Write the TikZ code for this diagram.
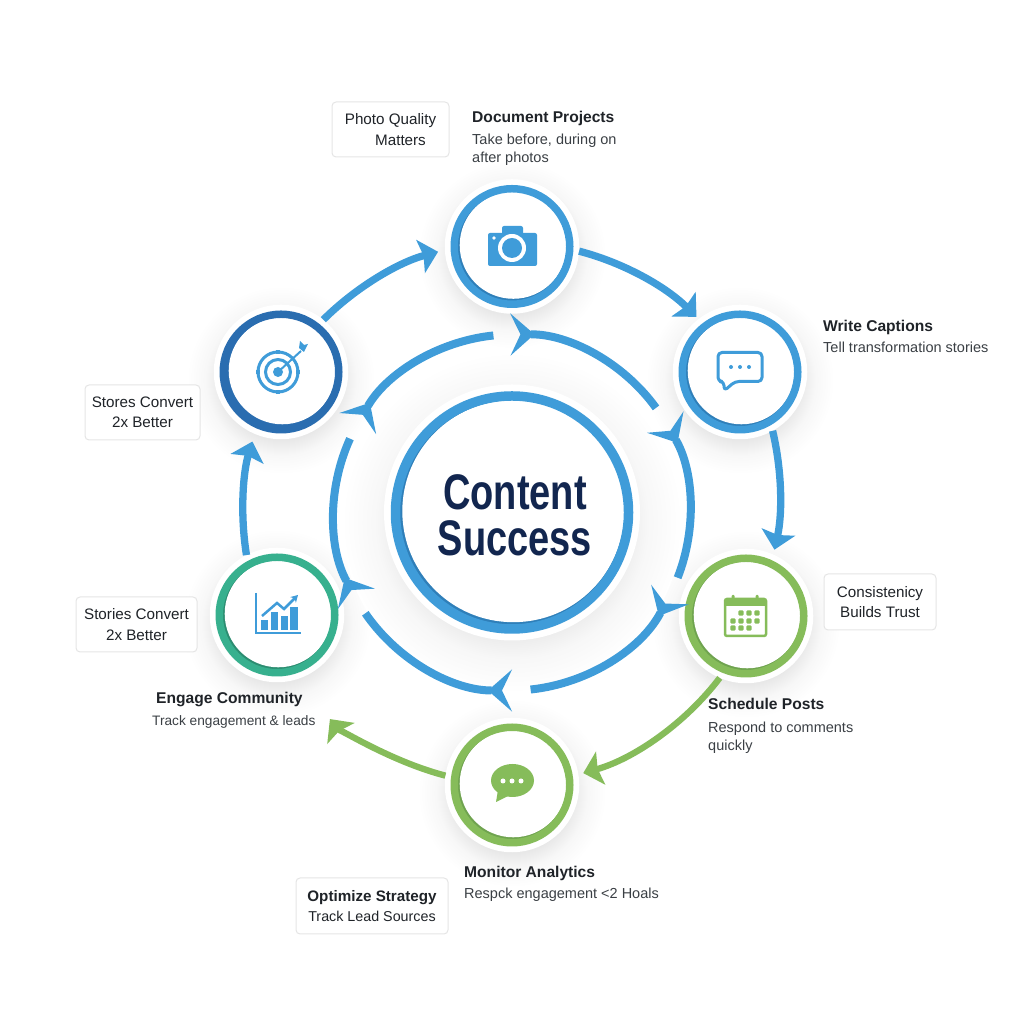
\documentclass[tikz,border=0pt]{standalone}
\usepackage{fontspec}
\setmainfont{Liberation Sans}
\newfontfamily\hubfont[FakeStretch=0.76]{Liberation Sans}
\usetikzlibrary{arrows.meta,backgrounds,positioning}
\definecolor{ringblue}{HTML}{3F9CD9}
\definecolor{ringdeep}{HTML}{2F7FB9}
\definecolor{ringnavy}{HTML}{2A6DB0}
\definecolor{ringgreen}{HTML}{86BC5A}
\definecolor{ringmoss}{HTML}{6FA34F}
\definecolor{ringteal}{HTML}{37B08E}
\definecolor{titlenavy}{HTML}{12264F}
\definecolor{inkdark}{HTML}{1F2328}
\definecolor{inksoft}{HTML}{3A3F44}
\pgfdeclareradialshading{haloshade}{\pgfpoint{0bp}{0bp}}{color(0bp)=(black!9);color(16bp)=(black!9);color(20bp)=(black!3);color(25bp)=(white);color(50bp)=(white)}
\tikzstyle{ring} = [circle, fill=white, inner sep=0pt, line width=7.5pt, minimum size=115.5pt, outer sep=9.5pt, preaction={draw=white, line width=19pt}]
\tikzset{ringcolors/.style n args={3}{draw=#1, path picture={
  \fill[#2] (path picture bounding box.center) circle [radius=#3pt+6pt];
  \fill[white] ([shift={(1.3pt,1.3pt)}]path picture bounding box.center) circle [radius=#3pt];}}}
\tikzstyle{headtext} = [anchor=west, inner sep=0pt, text height=10pt, text depth=3pt, font=\fontsize{15.6}{18}\selectfont\bfseries, text=inkdark]
\tikzstyle{subtext} = [anchor=west, inner sep=0pt, text height=10pt, text depth=3pt, font=\fontsize{14.5}{18}\selectfont, text=inksoft]
\tikzstyle{tagbox} = [draw=black!10, fill=white, rounded corners=4pt, line width=1pt, align=center, inner sep=0pt, font=\fontsize{15.2}{20.5}\selectfont, text=inkdark]
\tikzstyle{outerarrow} = [line width=7.3pt, ringblue, looseness=0.86, -{Stealth[length=18pt, width=34pt, inset=3pt]}]
\tikzstyle{greenarrow} = [outerarrow, ringgreen, line width=6.3pt]
\tikzstyle{innerarrow} = [line width=8pt, ringblue, -{Stealth[reversed, length=24pt, width=42pt, inset=10pt]}]

\begin{document}
\begin{tikzpicture}[x=1pt, y=1pt]
\useasboundingbox (0,0) rectangle (1024,1024);

\node [ring, ringcolors={ringblue}{ringdeep}{111}, line width=9.5pt, minimum size=233pt, outer sep=11pt, preaction={draw=white, line width=23pt}] (hub) at (512,511.5) {};
\node [ring, ringcolors={ringblue}{ringdeep}{53.6}] (camera) at (512,777.5) {};
\node [ring, ringcolors={ringblue}{ringdeep}{53.6}] (captions) at (740,652) {};
\node [ring, ringcolors={ringgreen}{ringmoss}{53.6}] (schedule) at (746,408) {};
\node [ring, ringcolors={ringgreen}{ringmoss}{53.6}] (comments) at (512,239) {};
\node [ring, ringcolors={ringteal}{ringteal!80!black}{53.6}] (analytics) at (277,409) {};
\node [ring, ringcolors={ringnavy}{ringnavy}{53.6}] (strategy) at (281,652) {};

\begin{scope}[on background layer]
\foreach \n in {camera, captions, schedule, comments, analytics, strategy}
  \shade [shading=haloshade] ([yshift=-8pt]\n.center) circle [radius=94];
\shade [shading=haloshade] ([yshift=-10pt]hub.center) circle [radius=170];
\end{scope}

\node [font=\fontsize{50}{46}\selectfont\hubfont\bfseries, text=titlenavy, align=center, inner sep=0pt] (hubtext) at (515,508.5) {Content\\Success};

\draw [outerarrow, shorten >=7pt] (strategy.51) to [bend left=15] (camera.183);
\draw [outerarrow, shorten >=3pt] (camera.-4) to [bend left=15] (captions.128);
\draw [outerarrow, shorten >=5pt] (captions.-61) to [bend left=13] (schedule.66);
\draw [greenarrow, shorten >=5pt] (schedule.247) to [bend left=18.5] (comments.9);
\draw [greenarrow, shorten >=51pt] (comments.172) to [bend left=19] (analytics.-71);
\draw [outerarrow, shorten >=8pt] (analytics.117) to [bend left=13] (strategy.247);

\foreach \a/\b in {96/150, 155.5/209, 214.5/270, 276/332.5, 338.5/390.5, 396/450.5}
  \draw [innerarrow] (hub.center) ++(\a:178) arc [start angle=\a, end angle=\b, radius=178];

\begin{scope}[shift={(camera.center)}, ringblue]
\fill [rounded corners=2pt] (-24,-19.5) rectangle (25,13.5);
\fill [rounded corners=2pt] (-10,10) rectangle (11,20.5);
\fill [white] (0,-1.5) circle [radius=14];
\fill (0,-1.5) circle [radius=10];
\fill [white] (-18,8.5) circle [radius=1.8];
\end{scope}

\begin{scope}[shift={(captions.center)}, ringblue]
\draw [line width=3pt, rounded corners=4pt, line join=round] (-5,-9.5) -- (-16,-19) -- (-16,-9.5) -- (-22,-9.5) -- (-22,19.5) -- (22,19.5) -- (22,-9.5) -- cycle;
\foreach \x in {-9,0,9} \fill (\x,5) circle [radius=2];
\end{scope}

\begin{scope}[shift={(schedule.center)}, ringgreen]
\draw [line width=2.5pt, rounded corners=2pt] (-21,-20) rectangle (20,17);
\fill (-21,10) rectangle (20,17);
\foreach \x in {-13,11} \fill [rounded corners=1pt] (\x-1.5,14) rectangle (\x+1.5,21);
\foreach \x/\y in {-5/3, 3/3, 11/3, -13/-5, -5/-5, 3/-5, 11/-5, -13/-12, -5/-12, 3/-12}
  \fill [rounded corners=1pt] (\x-2.6,\y-2.6) rectangle (\x+2.6,\y+2.6);
\end{scope}

\begin{scope}[shift={(comments.center)}, ringgreen]
\fill (0.5,4.5) ellipse [x radius=21.5, y radius=16.5];
\fill (-14,-5) -- (-16,-17) -- (-2,-10) -- cycle;
\foreach \x in {-9,0,9} \fill [white] (\x,4) circle [radius=2.5];
\end{scope}

\begin{scope}[shift={(analytics.center)}, ringblue]
\draw [line width=2pt] (-21,22) -- (-21,-18) -- (24,-18);
\fill (-16,-15) rectangle (-9,-5);
\fill (-6,-15) rectangle (1,3);
\fill (4,-15) rectangle (11,-1);
\fill (13,-15) rectangle (21,8);
\draw [line width=2.5pt, -{Stealth[length=7pt, width=8pt]}] (-15,-1) -- (0,12) -- (7,6) -- (21,20);
\end{scope}

\begin{scope}[shift={(strategy.center)}, ringblue]
\draw [line width=3pt] (-3,0) circle [radius=20];
\draw [line width=3pt] (-3,0) circle [radius=12.5];
\fill (-3,0) circle [radius=5];
\foreach \x/\y in {-3/20, -3/-20, -23/0, 17/0} \fill (\x-2,\y-2) rectangle (\x+2,\y+2);
\draw [line width=2pt] (-3,0) -- (20,21);
\fill (18,24) -- (19,31) -- (23,27) -- (27,28) -- (23,20) -- cycle;
\end{scope}

\node [tagbox, minimum width=117pt, minimum height=55pt] (phototag) at (390.5,894.5) {Photo Quality\\\hspace*{20pt}Matters};
\node [tagbox, minimum width=115pt, minimum height=55pt] (storestag) at (142.5,611.5) {Stores Convert\\2x Better};
\node [tagbox, minimum width=121pt, minimum height=55pt] (storiestag) at (136.5,399.5) {Stories Convert\\2x Better};
\node [tagbox, minimum width=112pt, minimum height=56pt] (trusttag) at (880,422) {Consistenicy\\Builds Trust};
\node [tagbox, minimum width=152pt, minimum height=56pt] (leadtag) at (372,118) {\textbf{Optimize Strategy}\\\fontsize{14.3}{20.5}\selectfont Track Lead Sources};

\node [headtext] (doctitle) at (472,905) {Document Projects};
\node [subtext, below=22pt of doctitle.west, anchor=west] (docline) {Take before, during on};
\node [subtext, below=18pt of docline.west, anchor=west] {after photos};
\node [headtext] (captitle) at (823,696) {Write Captions};
\node [subtext, below=21pt of captitle.west, anchor=west] {Tell transformation stories};
\node [headtext] (schedtitle) at (708,318) {Schedule Posts};
\node [subtext, below=23pt of schedtitle.west, anchor=west] (schedline) {Respond to comments};
\node [subtext, below=18pt of schedline.west, anchor=west] {quickly};
\node [headtext] (montitle) at (464,150) {Monitor Analytics};
\node [subtext, below=21pt of montitle.west, anchor=west] {Respck engagement <2 Hoals};
\node [headtext] (engtitle) at (156,324) {Engage Community};
\node [subtext, below=22pt of engtitle.west, anchor=west, xshift=-4pt, font=\fontsize{13.7}{18}\selectfont] {Track engagement \& leads};

\end{tikzpicture}
\end{document}
